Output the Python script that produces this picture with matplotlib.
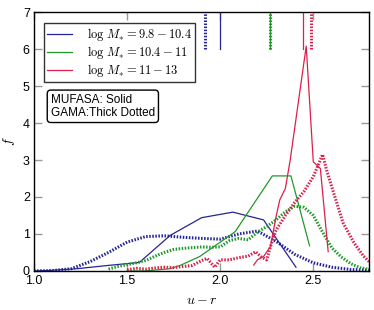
import numpy as np
import matplotlib
matplotlib.use("Agg")
import matplotlib.pyplot as plt

plt.rcParams['mathtext.fontset'] = 'cm'
plt.rcParams['font.family'] = ['Liberation Sans', 'DejaVu Sans']

# MUFASA (solid)
mu_blue_x = [1.00, 1.07, 1.23, 1.40, 1.566, 1.731, 1.90, 2.068, 2.233, 2.407]
mu_blue_y = [0.00, 0.01, 0.06, 0.15, 0.23, 0.96, 1.44, 1.59, 1.38, 0.10]

mu_green_x = [1.50, 1.60, 1.73, 1.79, 1.89, 2.08, 2.28, 2.38, 2.48]
mu_green_y = [0.00, 0.00, 0.06, 0.16, 0.39, 1.06, 2.57, 2.57, 0.68]

mu_red_x = [2.18, 2.20, 2.233, 2.27, 2.30, 2.32, 2.35, 2.376, 2.462, 2.50, 2.538, 2.58]
mu_red_y = [0.16, 0.30, 0.39, 0.66, 1.47, 1.92, 2.23, 3.00, 6.08, 2.95, 2.77, 0.52]

# GAMA (thick dotted)
ga_blue_x = [1.00, 1.10, 1.20, 1.30, 1.40, 1.50, 1.60, 1.70, 1.80, 1.90, 2.00,
             2.10, 2.20, 2.30, 2.40, 2.50, 2.60, 2.70, 2.80]
ga_blue_y = [0.00, 0.01, 0.06, 0.25, 0.50, 0.78, 0.93, 0.95, 0.91, 0.88, 0.86,
             1.00, 1.08, 0.80, 0.45, 0.22, 0.10, 0.04, 0.02]

ga_green_x = [1.40, 1.45, 1.50, 1.55, 1.60, 1.65, 1.70, 1.75, 1.80, 1.85, 1.90,
              1.95, 2.00, 2.05, 2.10, 2.15, 2.20, 2.25, 2.30, 2.35, 2.40, 2.45,
              2.50, 2.55, 2.60, 2.65, 2.70, 2.75, 2.80]
ga_green_y = [0.05, 0.12, 0.17, 0.22, 0.28, 0.40, 0.50, 0.58, 0.61, 0.63, 0.65,
              0.64, 0.65, 0.82, 0.88, 0.84, 1.05, 1.20, 1.38, 1.60, 1.75, 1.72,
              1.50, 1.05, 0.62, 0.38, 0.20, 0.09, 0.04]

ga_red_x = [1.50, 1.55, 1.60, 1.65, 1.70, 1.75, 1.80, 1.85, 1.90, 1.93, 1.97,
            2.00, 2.05, 2.10, 2.15, 2.19, 2.22, 2.25, 2.27, 2.30, 2.35, 2.40,
            2.45, 2.50, 2.55, 2.57, 2.61, 2.66, 2.72, 2.77, 2.80]
ga_red_y = [0.03, 0.07, 0.05, 0.08, 0.10, 0.09, 0.12, 0.15, 0.28, 0.34, 0.10,
            0.30, 0.30, 0.36, 0.40, 0.52, 0.38, 0.30, 0.66, 1.10, 1.50, 1.85,
            2.15, 2.55, 3.15, 2.75, 2.10, 1.30, 0.75, 0.40, 0.25]

# medians (drawn as ticks at the top)
mu_med = [2.00, 2.27, 2.445]
ga_med = [1.92, 2.27, 2.487]

colors = ['#24249a', '#22992a', '#dc1f4a']
labels = [r'$\log\,M_{*}=9.8-10.4$', r'$\log\,M_{*}=10.4-11$', r'$\log\,M_{*}=11-13$']

fig = plt.figure(figsize=(3.74, 3.10), dpi=100)
ax = fig.add_axes([0.091, 0.126, 0.896, 0.835])

dot = (0, (0.5, 0.5))
mu = [(mu_blue_x, mu_blue_y), (mu_green_x, mu_green_y), (mu_red_x, mu_red_y)]
ga = [(ga_blue_x, ga_blue_y), (ga_green_x, ga_green_y), (ga_red_x, ga_red_y)]

for i in range(3):
    ax.plot(mu[i][0], mu[i][1], color=colors[i], lw=0.9, label=labels[i])
    ax.plot(ga[i][0], ga[i][1], color=colors[i], lw=2.2, linestyle=dot)
    ax.plot([mu_med[i], mu_med[i]], [6, 7], color=colors[i], lw=0.9)
    ax.plot([ga_med[i], ga_med[i]], [6, 7], color=colors[i], lw=2.2, linestyle=dot)

ax.set_xlim(1.0, 2.8)
ax.set_ylim(0, 7)
ax.set_xticks([1.0, 1.5, 2.0, 2.5])
ax.set_yticks(range(8))
ax.tick_params(direction='in', length=6, width=1, color='#999999',
               top=True, right=True, labelsize=9, pad=3)
for s in ax.spines.values():
    s.set_linewidth(1.0)

ax.set_xlabel(r'$u-r$', fontsize=10)
ax.set_ylabel(r'$f$', fontsize=10)

leg = ax.legend(loc='upper left', bbox_to_anchor=(0.012, 0.982), fontsize=9,
                fancybox=False, edgecolor='black', handlelength=2.0,
                handletextpad=1.2, borderpad=0.25, labelspacing=0.08)
leg.get_frame().set_linewidth(1.0)

ax.text(0.05, 0.685, 'MUFASA: Solid\nGAMA:Thick Dotted', transform=ax.transAxes,
        fontsize=8.5, va='top', ha='left', linespacing=1.15,
        bbox=dict(boxstyle='round,pad=0.3', facecolor='white', edgecolor='black'))

fig.savefig('out.png', dpi=100)
